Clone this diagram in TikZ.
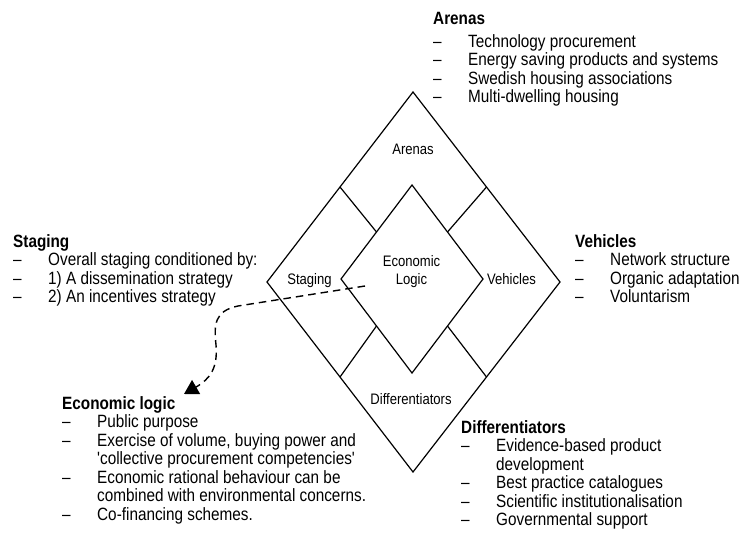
\documentclass[tikz,border=0pt]{standalone}
\usepackage{fontspec}
\setmainfont[FakeStretch=0.86,Ligatures=TeXOff]{Liberation Sans}
\usetikzlibrary{arrows.meta,calc}
\begin{document}
\begin{tikzpicture}[x=1pt,y=-1pt,
  lbl/.style={font=\fontsize{15.2}{17}\selectfont, inner sep=0pt, anchor=base},
  listblock/.style={anchor=base west, inner sep=0pt, font=\fontsize{17.8}{18.5}\selectfont},
  dia/.style={line width=1.2pt, line join=miter},
  flow/.style={line width=1.4pt, dash pattern=on 7.5pt off 5pt, -{Triangle[length=14pt,width=16pt]}}]
\useasboundingbox (0,0) rectangle (739,541);
% outer diamond
\coordinate (OT) at (413,92);
\coordinate (OL) at (267,282);
\coordinate (OR) at (560,282);
\coordinate (OB) at (413,472);
% inner diamond
\coordinate (IT) at (412,185);
\coordinate (IL) at (341,279);
\coordinate (IR) at (483,279);
\coordinate (IB) at (412,373);
\draw[dia] (OT) -- (OR) -- (OB) -- (OL) -- cycle;
\draw[dia] (IT) -- (IR) -- (IB) -- (IL) -- cycle;
\draw[dia] ($(OT)!0.5!(OL)$) -- ($(IT)!0.5!(IL)$);
\draw[dia] ($(OT)!0.5!(OR)$) -- ($(IT)!0.5!(IR)$);
\draw[dia] ($(OB)!0.5!(OL)$) -- ($(IB)!0.5!(IL)$);
\draw[dia] ($(OB)!0.5!(OR)$) -- ($(IB)!0.5!(IR)$);
% labels inside
\node[lbl] (arenasL) at (413,154) {Arenas};
\node[lbl] (stagingL) at (309.5,284) {Staging};
\node[lbl] (vehiclesL) at (511.5,284) {Vehicles};
\node[lbl] (econL1) at (411.5,266) {Economic};
\node[lbl] (econL2) at (411.5,284) {Logic};
\node[lbl] (diffL) at (411,404) {Differentiators};
% text blocks
\node[listblock] (arenas) at (433,24) {\begin{tabular}[t]{@{}p{35pt}@{}l@{}}
\multicolumn{2}{@{}l@{}}{\textbf{Arenas}}\\[4.5pt]
– & Technology procurement\\
– & Energy saving products and systems\\
– & Swedish housing associations\\
– & Multi-dwelling housing
\end{tabular}};
\node[listblock] (staging) at (13,247) {\begin{tabular}[t]{@{}p{35pt}@{}l@{}}
\multicolumn{2}{@{}l@{}}{\textbf{Staging}}\\
– & Overall staging conditioned by:\\
– & 1) A dissemination strategy\\
– & 2) An incentives strategy
\end{tabular}};
\node[listblock] (vehicles) at (575,247) {\begin{tabular}[t]{@{}p{35pt}@{}l@{}}
\multicolumn{2}{@{}l@{}}{\textbf{Vehicles}}\\
– & Network structure\\
– & Organic adaptation\\
– & Voluntarism
\end{tabular}};
\node[listblock] (econ) at (62,409) {\begin{tabular}[t]{@{}p{35pt}@{}l@{}}
\multicolumn{2}{@{}l@{}}{\textbf{Economic logic}}\\
– & Public purpose\\
– & Exercise of volume, buying power and\\
  & 'collective procurement competencies'\\
– & Economic rational behaviour can be\\
  & combined with environmental concerns.\\
– & Co-financing schemes.
\end{tabular}};
\node[listblock] (diff) at (461,433) {\begin{tabular}[t]{@{}p{35pt}@{}l@{}}
\multicolumn{2}{@{}l@{}}{\textbf{Differentiators}}\\
– & Evidence-based product\\
  & development\\
– & Best practice catalogues\\
– & Scientific institutionalisation\\
– & Governmental support
\end{tabular}};
% dashed connector
\coordinate (arrS) at (365,286);
\coordinate (arrE) at (184,394);
\draw[flow] (arrS) -- (238,306) .. controls (214,311) and (214,325) .. (216,345)
  .. controls (218,368) and (210,379) .. (arrE);
\end{tikzpicture}
\end{document}
